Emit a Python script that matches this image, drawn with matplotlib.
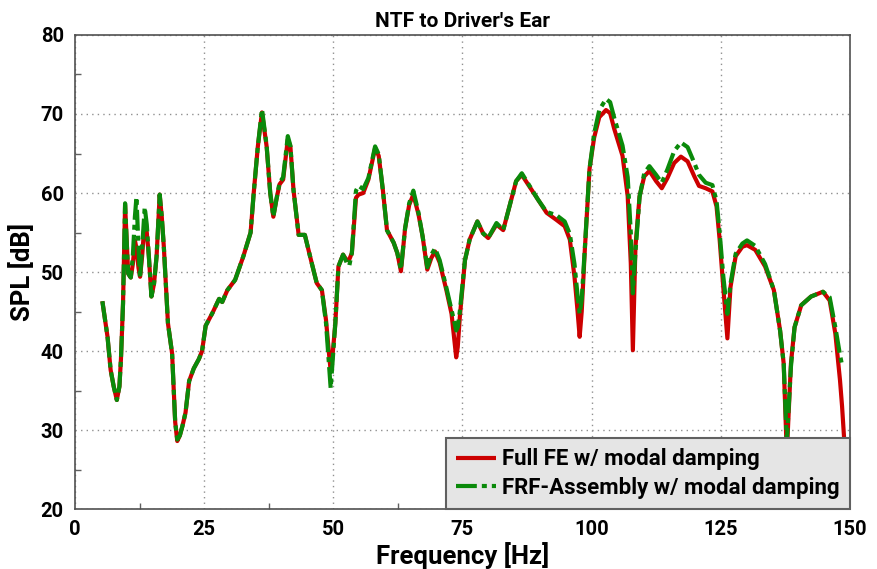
import numpy as np
import matplotlib
matplotlib.use("Agg")
import matplotlib.pyplot as plt

plt.rcParams['font.family'] = ['Roboto', 'DejaVu Sans']
plt.rcParams['font.weight'] = 'bold'

# Frequency axis shared by both series (Hz)
freq_hz = [
    5.3, 6.3, 6.9, 7.5, 8.1, 8.6, 8.9, 9.3, 9.7, 10.0,
    10.3, 10.8, 11.2, 11.6, 11.9, 12.3, 12.6, 13.0, 13.5, 13.9,
    14.3, 14.8, 15.3, 15.8, 16.4, 16.8, 17.2, 17.7, 18.0, 18.8,
    19.4, 19.8, 20.3, 20.8, 21.4, 22.1, 23.0, 24.0, 24.6, 25.3,
    26.6, 27.9, 28.5, 29.5, 31.0, 32.6, 34.0, 34.6, 35.4, 36.2,
    37.1, 37.8, 38.4, 39.0, 39.6, 40.3, 41.2, 41.7, 42.3, 43.3,
    44.5, 45.5, 46.8, 47.8, 48.6, 49.2, 49.5, 49.8, 50.4, 51.0,
    51.9, 52.6, 53.1, 53.6, 54.4, 54.9, 55.8, 56.8, 58.1, 58.8,
    59.6, 60.4, 61.7, 62.4, 63.1, 63.9, 64.7, 65.5, 66.5, 67.3,
    68.2, 69.0, 69.7, 70.6, 71.9, 72.9, 73.5, 73.8, 74.1, 74.5,
    75.5, 76.4, 77.9, 79.0, 80.0, 81.6, 82.9, 84.2, 85.4, 86.5,
    88.0, 89.6, 91.3, 93.2, 94.8, 95.8, 96.7, 97.3, 97.7, 98.1,
    98.7, 99.6, 100.5, 101.5, 102.8, 103.6, 104.4, 106.0, 107.0, 107.6,
    108.0, 108.5, 109.3, 110.2, 111.2, 112.5, 113.6, 114.7, 116.0, 117.3,
    118.6, 119.9, 120.8, 122.1, 123.4, 124.2, 124.8, 125.5, 126.3, 126.9,
    127.9, 129.2, 130.1, 131.7, 133.6, 135.3, 136.5, 137.2, 137.8, 138.6,
    139.3, 140.6, 142.5, 144.8, 146.1, 147.2, 148.1, 148.5, 148.9, 149.5,
]

# Full FE w/ modal damping (dB)
full_fe_db = [
    46.3, 41.8, 37.6, 35.5, 33.8, 35.5, 39.0, 46.0, 58.5, 54.0,
    49.8, 49.3, 51.0, 54.0, 53.0, 50.5, 49.4, 52.0, 56.5, 55.0,
    52.0, 46.9, 48.5, 52.0, 59.8, 57.0, 53.2, 47.0, 43.5, 39.7,
    31.0, 28.6, 29.3, 30.5, 32.2, 36.2, 37.8, 39.0, 40.0, 43.2,
    44.8, 46.6, 46.2, 47.7, 49.0, 52.0, 55.0, 60.0, 65.9, 70.2,
    65.9, 60.0, 57.0, 59.2, 61.1, 61.7, 66.8, 65.9, 60.4, 54.7,
    54.7, 52.0, 48.6, 47.7, 43.9, 39.5, 37.5, 39.0, 43.5, 50.7,
    52.2, 51.5, 51.6, 52.4, 59.4, 59.8, 60.0, 61.7, 65.7, 64.7,
    60.4, 55.3, 53.7, 52.4, 50.1, 55.5, 58.5, 59.8, 57.3, 54.5,
    50.3, 51.8, 52.6, 51.2, 47.7, 44.7, 41.0, 39.2, 40.5, 44.3,
    51.5, 54.1, 56.4, 54.9, 54.3, 56.0, 55.3, 58.5, 61.5, 62.3,
    60.8, 59.2, 57.5, 56.6, 55.8, 54.1, 49.4, 45.0, 41.8, 45.0,
    52.8, 63.0, 67.0, 69.6, 70.5, 70.1, 68.1, 64.7, 59.6, 51.1,
    40.1, 53.2, 59.6, 62.1, 62.8, 61.5, 60.6, 61.9, 63.8, 64.6,
    64.0, 62.1, 60.9, 60.6, 60.2, 58.3, 54.1, 48.1, 41.6, 48.1,
    52.0, 53.2, 53.4, 52.8, 50.7, 47.7, 42.6, 38.4, 27.0, 38.4,
    43.0, 45.8, 46.9, 47.5, 46.4, 42.2, 36.3, 33.0, 28.9, 22.0,
]

# FRF-Assembly w/ modal damping (dB); no data past 148.5 Hz
frf_asm_db = [
    46.3, 41.8, 37.6, 35.5, 33.8, 35.5, 39.0, 46.0, 58.7, 54.0,
    49.8, 49.3, 52.0, 57.0, 59.5, 53.0, 49.2, 53.0, 58.2, 56.0,
    52.0, 46.9, 48.5, 52.0, 59.8, 57.0, 53.2, 47.0, 43.5, 39.7,
    31.0, 28.8, 29.3, 30.5, 32.2, 36.2, 37.8, 39.0, 40.0, 43.2,
    44.8, 46.6, 46.2, 47.7, 49.0, 52.0, 55.0, 60.0, 65.9, 70.6,
    66.0, 60.0, 57.0, 59.2, 61.3, 62.0, 67.2, 66.0, 60.4, 54.7,
    54.7, 52.0, 48.6, 47.7, 43.5, 38.0, 35.3, 38.0, 43.5, 50.7,
    52.2, 51.2, 50.8, 52.4, 60.3, 60.9, 60.5, 61.9, 65.9, 64.9,
    60.4, 55.3, 53.7, 52.4, 50.3, 55.5, 58.7, 60.3, 57.5, 54.5,
    50.6, 52.2, 53.0, 51.5, 48.0, 45.2, 43.5, 42.6, 43.0, 45.0,
    51.5, 54.1, 56.4, 54.9, 54.3, 56.2, 55.3, 58.5, 61.5, 62.5,
    60.9, 59.2, 57.6, 57.2, 56.4, 54.8, 51.0, 47.0, 44.7, 46.5,
    53.0, 63.0, 67.5, 70.5, 71.9, 71.5, 69.5, 66.0, 62.0, 55.0,
    47.3, 52.5, 59.5, 62.5, 63.4, 62.3, 61.3, 63.0, 65.3, 66.4,
    65.8, 63.8, 62.3, 61.3, 61.0, 59.0, 55.0, 49.5, 44.7, 48.5,
    52.3, 53.6, 54.0, 53.3, 51.0, 47.7, 42.6, 38.4, 28.5, 38.0,
    43.0, 45.8, 46.9, 47.5, 46.8, 43.0, 39.5, 38.2, np.nan, np.nan,
]

fig = plt.figure(figsize=(8.77, 5.69), dpi=100)
ax = fig.add_axes([0.0855, 0.1054, 0.8835, 0.8331])

ax.plot(freq_hz, full_fe_db, color="#cc0000", lw=3.0, solid_capstyle="butt",
        label="Full FE w/ modal damping", zorder=3)
ax.plot(freq_hz, frf_asm_db, color="#0a8a0a", lw=3.0,
        dashes=(5, 1.2, 1.2, 1.2), label="FRF-Assembly w/ modal damping",
        zorder=4)

ax.set_xlim(0, 150)
ax.set_ylim(20, 80)
ax.set_xticks([0, 25, 50, 75, 100, 125, 150])
ax.set_yticks([20, 30, 40, 50, 60, 70, 80])
ax.set_xticks([12.5, 37.5, 62.5, 87.5, 112.5, 137.5], minor=True)
ax.set_yticks([25, 35, 45, 55, 65, 75], minor=True)
ax.tick_params(which="major", length=0, labelsize=14.5, pad=8)
ax.tick_params(which="minor", length=4, direction="in", color="#606060",
               width=1)
for lbl in ax.get_xticklabels() + ax.get_yticklabels():
    lbl.set_fontweight("bold")
ax.grid(True, which="major", linestyle=(0, (1, 3)), color="#909090", lw=1)

for sp in ax.spines.values():
    sp.set_color("#505050")
    sp.set_linewidth(1.2)

ax.set_title("NTF to Driver's Ear", fontsize=15, fontweight="bold", pad=6)
ax.set_xlabel("Frequency [Hz]", fontsize=18.5, fontweight="bold", labelpad=2)
ax.set_ylabel("SPL [dB]", fontsize=18.5, fontweight="bold", labelpad=4)

leg = ax.legend(loc="lower right", borderaxespad=0, fancybox=False,
                framealpha=1, facecolor="#e5e5e5", edgecolor="#606060",
                prop={"weight": "bold", "size": 16}, handlelength=1.8,
                handletextpad=0.3, labelspacing=0.3, borderpad=0.45)
leg.get_frame().set_linewidth(1.5)
leg.set_zorder(10)

fig.savefig("out.png", dpi=100)
